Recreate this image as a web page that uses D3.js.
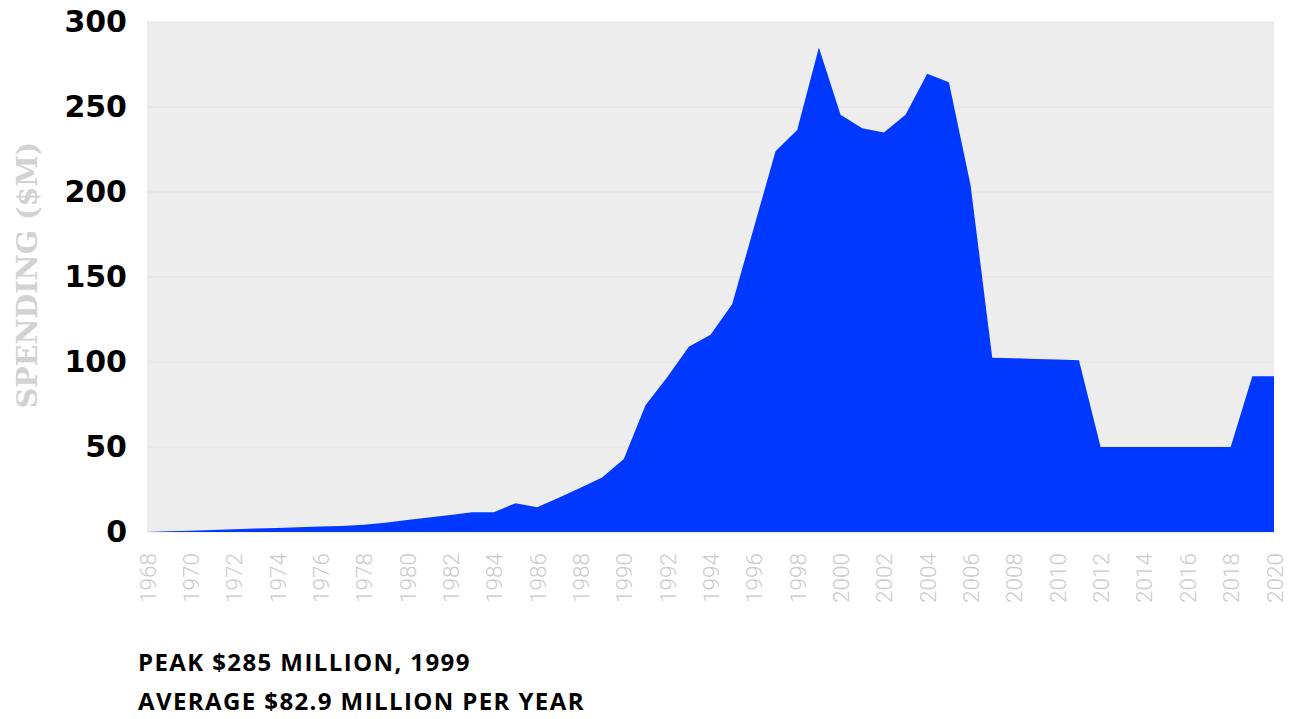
<!DOCTYPE html>
<html>
<head>
<meta charset="utf-8">
<script src="https://cdn.jsdelivr.net/npm/d3@7"></script>
<style>
  html, body { margin: 0; padding: 0; background: #ffffff; }
  svg { display: block; }
</style>
</head>
<body>
<svg id="chart" width="1297" height="719"></svg>
<script>
// Annual spending, millions of dollars
const years = d3.range(1968, 2021);
const spending = [
  0, 0.4, 0.8, 1.2, 1.6, 2.0, 2.4, 2.8, 3.2, 3.6,   // 1968-1977
  4.2, 5.5, 7.0, 8.5, 10.0, 11.6, 11.6, 16.9, 14.5, 20.2, // 1978-1987
  26.0, 32.0, 43.0, 74.5, 91.0, 109.0, 116.0, 134.0, 179.0, 224.0, // 1988-1997
  236.5, 285.0, 245.5, 237.5, 235.0, 245.5, 269.5, 264.5, 204.0, 102.5, // 1998-2007
  102.2, 101.8, 101.4, 101.0, 50.0, 50.0, 50.0, 50.0, 50.0, 50.0, // 2008-2017
  50.0, 91.6, 91.6 // 2018-2020
];
const yTicks = [0, 50, 100, 150, 200, 250, 300];
const xTicks = d3.range(1968, 2021, 2);
const yTitle = "SPENDING ($M)";
const notes = ["PEAK $285 MILLION, 1999", "AVERAGE $82.9 MILLION PER YEAR"];

const data = years.map((y, i) => ({ year: y, value: spending[i] }));

const svg = d3.select("#chart");
const plotLeft = 147, plotRight = 1274, plotTop = 22, plotBottom = 532;

const x = d3.scaleLinear().domain([1968, 2020]).range([plotLeft, plotRight]);
const y = d3.scaleLinear().domain([0, 300]).range([plotBottom, plotTop]);

// plot background
svg.append("rect")
  .attr("x", plotLeft).attr("y", plotTop)
  .attr("width", plotRight - plotLeft).attr("height", plotBottom - plotTop)
  .attr("fill", "#ededed");

// horizontal gridlines
svg.append("g")
  .selectAll("line")
  .data(yTicks)
  .join("line")
  .attr("x1", plotLeft).attr("x2", plotRight)
  .attr("y1", d => y(d)).attr("y2", d => y(d))
  .attr("stroke", "#e1e1e1")
  .attr("stroke-width", 1.2);

// spending area
const area = d3.area()
  .x(d => x(d.year))
  .y0(y(0))
  .y1(d => y(d.value));

svg.append("path")
  .datum(data)
  .attr("d", area)
  .attr("fill", "#0038ff");

// y axis
const yAxis = svg.append("g")
  .attr("transform", `translate(${plotLeft},0)`)
  .call(d3.axisLeft(y).tickValues(yTicks).tickSize(0).tickPadding(20));
yAxis.select(".domain").remove();
yAxis.selectAll("text")
  .attr("font-family", "'DejaVu Sans', sans-serif")
  .attr("font-weight", "bold")
  .attr("font-size", 30)
  .attr("fill", "#000");

// x axis, vertical year labels
const xAxis = svg.append("g")
  .attr("transform", `translate(0,${plotBottom})`)
  .call(d3.axisBottom(x).tickValues(xTicks).tickFormat(d3.format("d")).tickSize(0));
xAxis.select(".domain").remove();
xAxis.selectAll("text")
  .attr("font-family", "Roboto, sans-serif")
  .attr("font-weight", 300)
  .attr("font-size", 22.5)
  .attr("fill", "#cacaca")
  .attr("text-anchor", "end")
  .attr("dy", null)
  .attr("y", 0)
  .attr("transform", "translate(8,21) rotate(-90)");

// y axis title
svg.append("text")
  .attr("transform", "translate(37,275) rotate(-90)")
  .attr("text-anchor", "middle")
  .attr("font-family", "'DejaVu Serif', serif")
  .attr("font-weight", "bold")
  .attr("font-size", 28.5)
  .attr("fill", "#d2d2d2")
  .text(yTitle);

// summary notes
svg.append("g")
  .selectAll("text")
  .data(notes)
  .join("text")
  .attr("x", 138)
  .attr("y", (d, i) => 671 + i * 39)
  .attr("font-family", "'Open Sans', sans-serif")
  .attr("font-weight", 700)
  .attr("font-size", 24)
  .attr("letter-spacing", 1.4)
  .attr("fill", "#000")
  .text(d => d);
</script>
</body>
</html>
